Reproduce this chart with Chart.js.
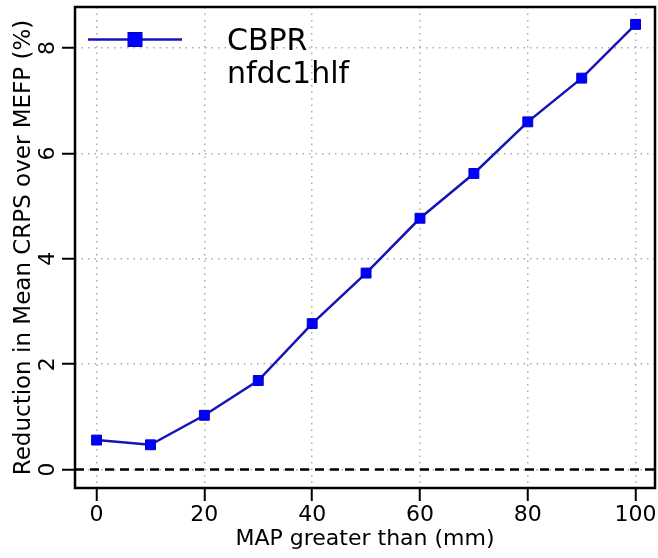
<!DOCTYPE html>
<html>
<head>
<meta charset="utf-8">
<script src="https://cdn.jsdelivr.net/npm/chart.js@4.4.1/dist/chart.umd.min.js"></script>
<style>
html,body{margin:0;padding:0;background:#ffffff;}
#wrap{width:658px;height:558px;}
</style>
</head>
<body>
<div id="wrap"><canvas id="c" width="658" height="558"></canvas></div>
<script>
// ---- data ----
const mapThresholds = [0, 10, 20, 30, 40, 50, 60, 70, 80, 90, 100];
const crpsReduction = [0.56, 0.47, 1.03, 1.69, 2.77, 3.73, 4.77, 5.62, 6.60, 7.43, 8.45];
const seriesLabel = ['CBPR', 'nfdc1hlf'];
const xTickValues = [0, 20, 40, 60, 80, 100];
const yTickValues = [0, 2, 4, 6, 8];
const xTitle = 'MAP greater than (mm)';
const yTitle = 'Reduction in Mean CRPS over MEFP (%)';
const referenceLevel = 0;

const FONT = '"DejaVu Sans", "Liberation Sans", sans-serif';

const extrasPlugin = {
  id: 'extras',
  beforeDatasetsDraw(chart) {
    const {ctx, chartArea: a, scales: {y}} = chart;
    const py = y.getPixelForValue(referenceLevel);
    ctx.save();
    ctx.strokeStyle = '#000000';
    ctx.lineWidth = 2.5;
    ctx.setLineDash([9, 6]);
    ctx.beginPath();
    ctx.moveTo(a.left, py);
    ctx.lineTo(a.right, py);
    ctx.stroke();
    ctx.restore();
  },
  afterDraw(chart) {
    const {ctx, chartArea: a, scales: {y}} = chart;
    ctx.save();
    // plot box
    ctx.strokeStyle = '#000000';
    ctx.lineWidth = 2.5;
    ctx.strokeRect(a.left, a.top, a.right - a.left, a.bottom - a.top);
    // rotated y tick labels (R style, parallel to axis)
    ctx.fillStyle = '#000000';
    ctx.font = '22px ' + FONT;
    ctx.textAlign = 'center';
    ctx.textBaseline = 'middle';
    yTickValues.forEach(v => {
      const py = y.getPixelForValue(v);
      ctx.save();
      ctx.translate(a.left - 27, py);
      ctx.rotate(-Math.PI / 2);
      ctx.fillText(String(v), 0, 0);
      ctx.restore();
    });
    // legend (inside plot, no box)
    const ds = chart.data.datasets[0];
    const ly = a.top + 32.5;
    ctx.strokeStyle = ds.borderColor;
    ctx.lineWidth = ds.borderWidth;
    ctx.beginPath();
    ctx.moveTo(a.left + 13, ly);
    ctx.lineTo(a.left + 107, ly);
    ctx.stroke();
    ctx.fillStyle = ds.pointBackgroundColor;
    ctx.strokeStyle = ds.pointBorderColor;
    ctx.lineWidth = 1;
    ctx.fillRect(a.left + 53, ly - 7, 14, 14);
    ctx.strokeRect(a.left + 53, ly - 7, 14, 14);
    ctx.fillStyle = '#000000';
    ctx.font = '30px ' + FONT;
    ctx.textAlign = 'left';
    ctx.textBaseline = 'alphabetic';
    seriesLabel.forEach((t, i) => {
      ctx.fillText(t, a.left + 152, a.top + 43 + i * 33);
    });
    ctx.restore();
  }
};

new Chart(document.getElementById('c'), {
  type: 'line',
  data: {
    datasets: [{
      label: seriesLabel.join(' '),
      data: mapThresholds.map((x, i) => ({x: x, y: crpsReduction[i]})),
      borderColor: '#1414b8',
      borderWidth: 2.5,
      pointStyle: 'rect',
      pointRadius: 7,
      pointBackgroundColor: '#0000ff',
      pointBorderColor: '#0000c8',
      pointBorderWidth: 1,
      tension: 0,
      fill: false
    }]
  },
  options: {
    responsive: false,
    animation: false,
    devicePixelRatio: 1,
    layout: {autoPadding: false, padding: {left: 0, right: 3, top: 7, bottom: 0}},
    plugins: {legend: {display: false}, tooltip: {enabled: false}},
    scales: {
      x: {
        type: 'linear',
        min: -4,
        max: 103.6,
        afterBuildTicks: s => { s.ticks = xTickValues.map(v => ({value: v})); },
        afterFit: s => { s.height = 70; s.paddingLeft = 0; s.paddingRight = 0; },
        grid: {
          color: '#aaaaaa', lineWidth: 1.5,
          drawTicks: true, tickLength: 13, tickColor: '#000000', tickWidth: 2, tickBorderDash: []
        },
        border: {display: false, dash: [1.5, 5]},
        ticks: {
          font: {family: FONT, size: 22}, color: '#000000', padding: 1,
          maxRotation: 0, minRotation: 0, autoSkip: false
        },
        title: {
          display: true, text: xTitle, color: '#000000',
          font: {family: FONT, size: 22}, padding: {top: 0, bottom: 6}
        }
      },
      y: {
        type: 'linear',
        min: -0.35,
        max: 8.78,
        afterBuildTicks: s => { s.ticks = yTickValues.map(v => ({value: v})); },
        afterFit: s => { s.width = 75; s.paddingTop = 0; s.paddingBottom = 0; },
        grid: {
          color: '#aaaaaa', lineWidth: 1.5,
          drawTicks: true, tickLength: 13, tickColor: '#000000', tickWidth: 2, tickBorderDash: []
        },
        border: {display: false, dash: [1.5, 5]},
        ticks: {display: false},
        title: {
          display: true, text: yTitle, color: '#000000',
          font: {family: FONT, size: 23}, padding: {top: 10, bottom: 0}
        }
      }
    }
  },
  plugins: [extrasPlugin]
});
</script>
</body>
</html>
